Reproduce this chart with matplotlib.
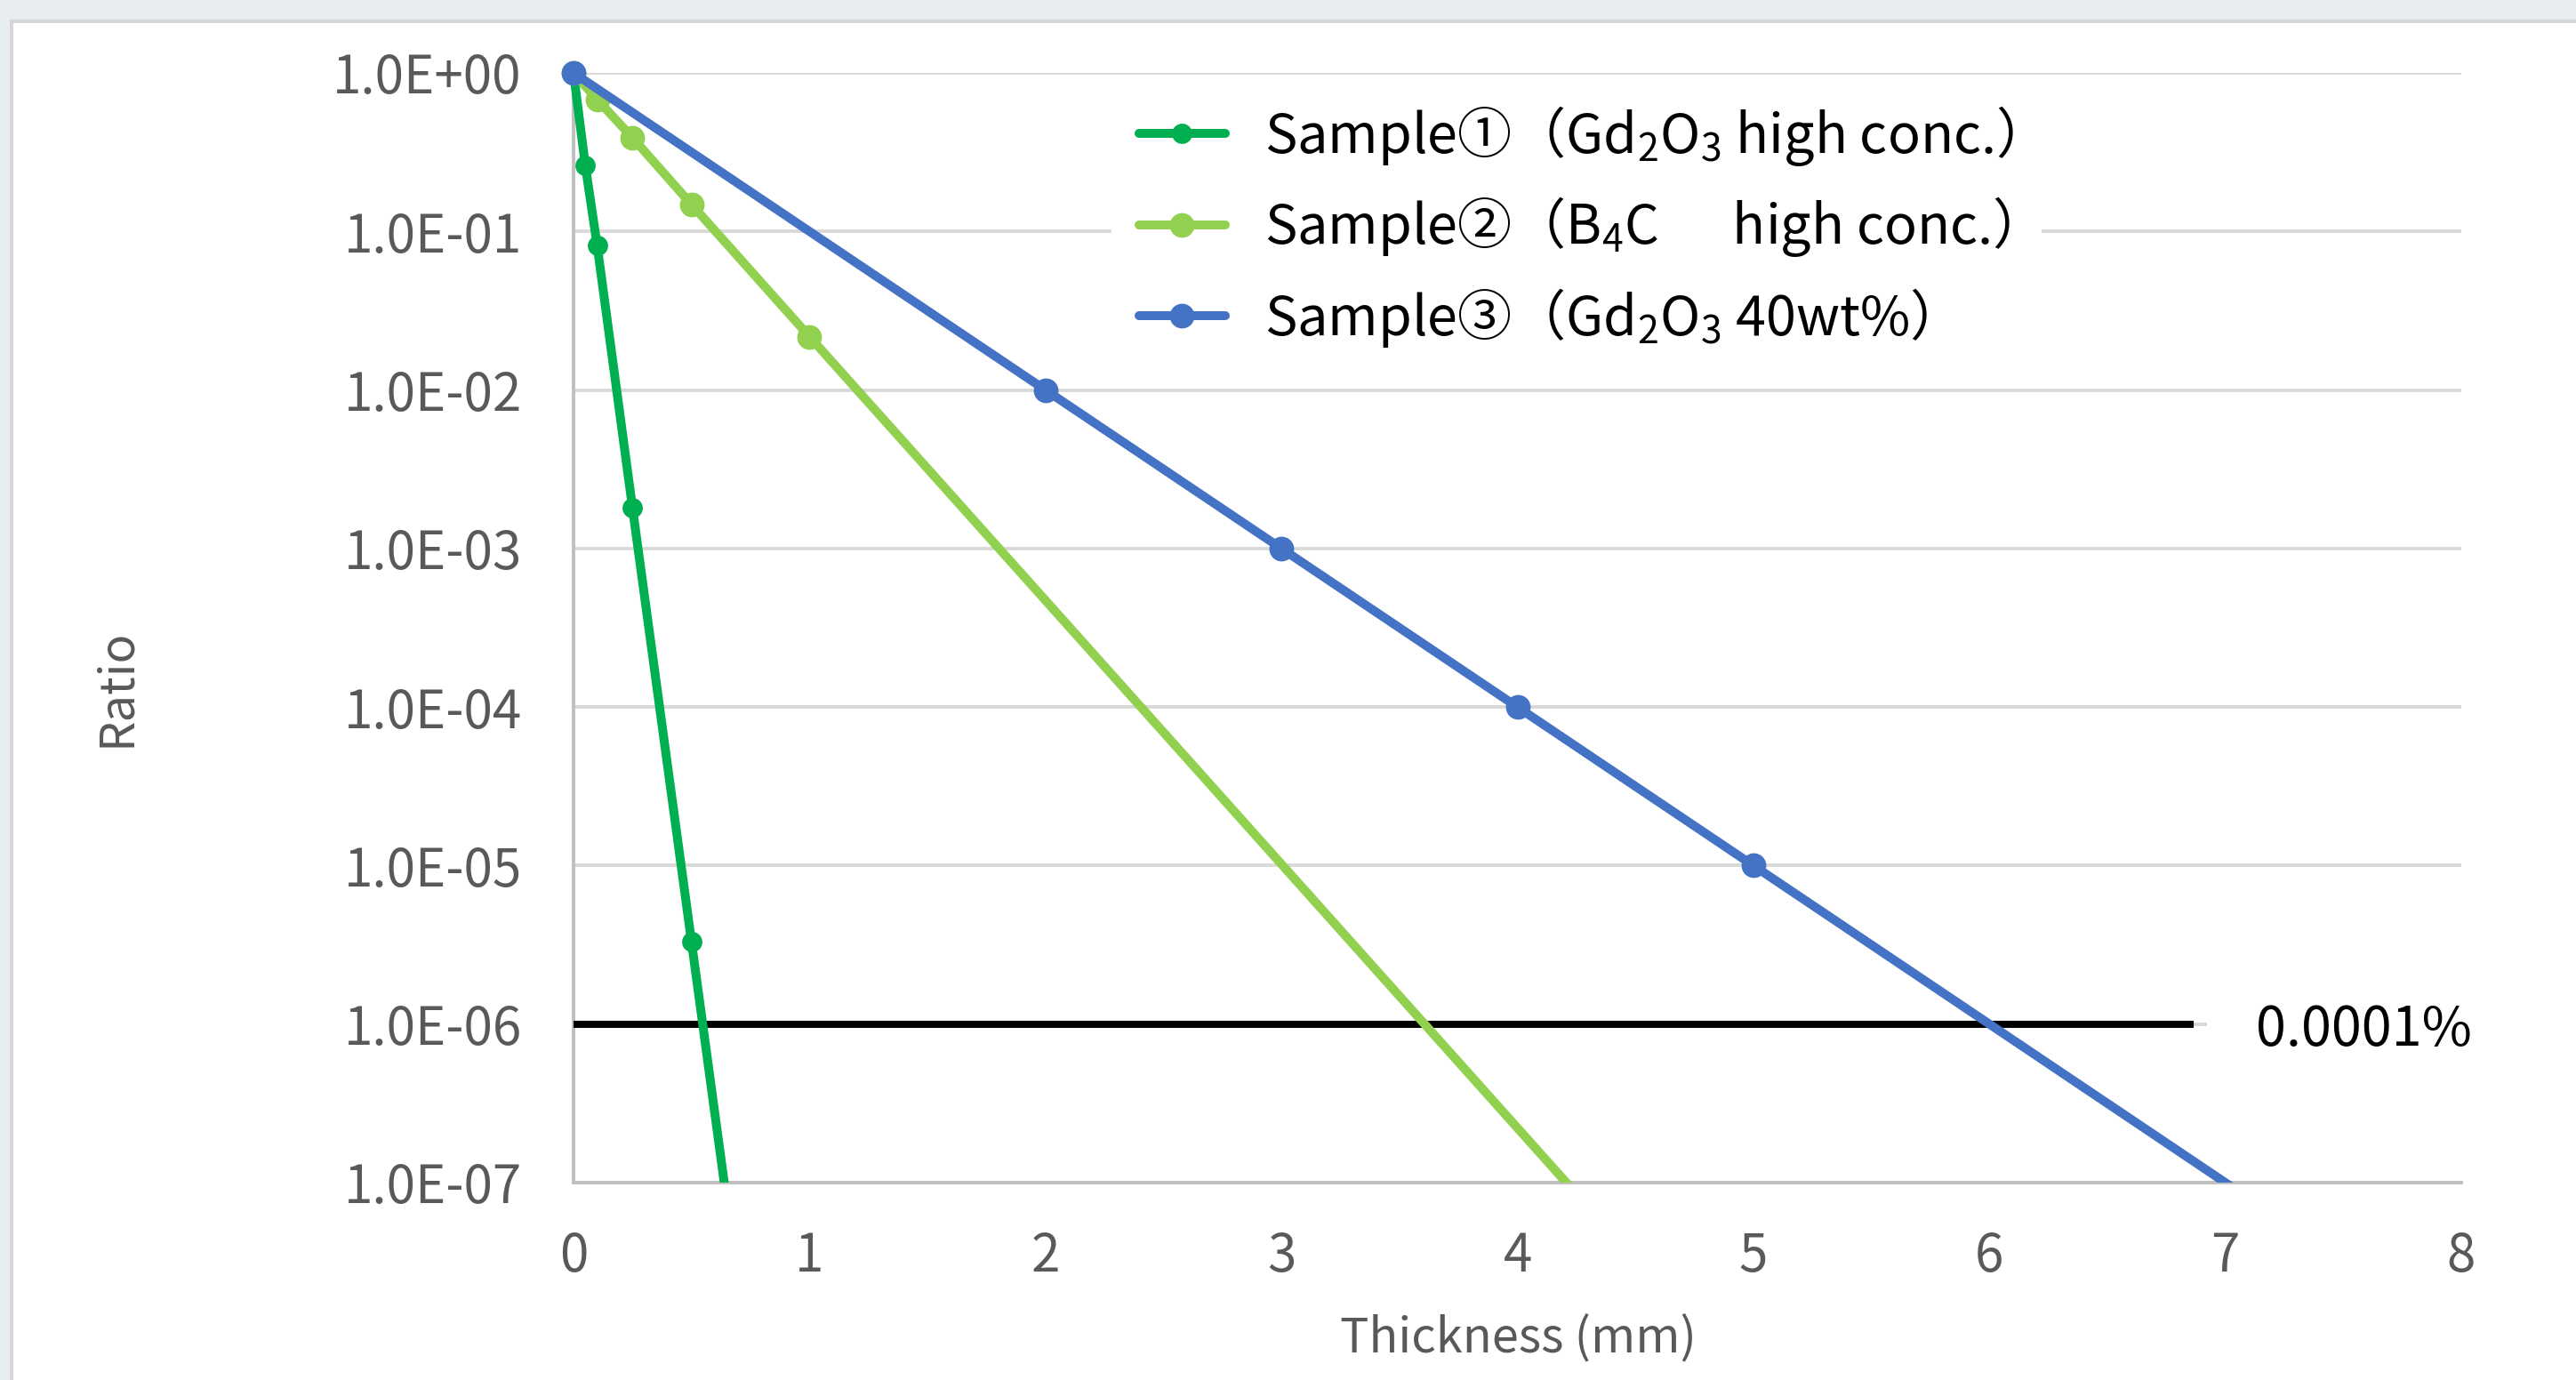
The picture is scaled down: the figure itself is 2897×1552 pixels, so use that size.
import numpy as np
import matplotlib.pyplot as plt
import matplotlib.ticker as ticker
from matplotlib.patches import Rectangle
from matplotlib.lines import Line2D
from matplotlib.transforms import Bbox, TransformedBbox

# Sample① Gd2O3 high conc.
s1_x = [0.0, 0.05, 0.1, 0.25, 0.5, 1.0]
s1_y = [1.0, 0.26, 0.082, 1.8e-3, 3.3e-6, 1.1e-11]
# Sample② B4C high conc.
s2_x = [0.0, 0.1, 0.25, 0.5, 1.0, 5.0]
s2_y = [1.0, 0.68, 0.39, 0.148, 0.0217, 4.8e-9]
# Sample③ Gd2O3 40wt%
s3_x = [0.0, 2.0, 3.0, 4.0, 5.0, 10.0]
s3_y = [1.0, 1e-2, 1e-3, 1e-4, 1e-5, 1e-10]
# 0.0001 % reference line
thr_x = [0.015, 6.85]
thr_y = [1e-6, 1e-6]

labels = ['Sample①（Gd$_{\\mathregular{2}}$O$_{\\mathregular{3}}$ high conc.）',
          'Sample②（B$_{\\mathregular{4}}$C      high conc.）',
          'Sample③（Gd$_{\\mathregular{2}}$O$_{\\mathregular{3}}$ 40wt%）']
colors = ['#00B050', '#92D050', '#4472C4']
y_ticks = [1e-7, 1e-6, 1e-5, 1e-4, 1e-3, 1e-2, 1e-1, 1.0]
x_ticks = [0, 1, 2, 3, 4, 5, 6, 7, 8]

plt.rcParams['font.family'] = ['Noto Sans CJK JP', 'DejaVu Sans']

W, H = 2897, 1552
fig = plt.figure(figsize=(W / 200, H / 200), dpi=200, facecolor='white')

# grey frame strip at top / left (screenshot border)
bg = '#E8EDF0'
fig.add_artist(Rectangle((0, 1 - 22 / H), 1, 22 / H, transform=fig.transFigure,
                         facecolor=bg, edgecolor='none'))
fig.add_artist(Rectangle((0, 0), 11 / W, 1, transform=fig.transFigure,
                         facecolor=bg, edgecolor='none'))
fig.add_artist(Line2D([13 / W, 1], [1 - 24 / H, 1 - 24 / H], transform=fig.transFigure,
                      color='#D6D6D6', lw=1.4))
fig.add_artist(Line2D([13 / W, 13 / W], [0, 1 - 24 / H], transform=fig.transFigure,
                      color='#D6D6D6', lw=1.4))

ax = fig.add_axes([645 / W, 1 - 1330 / H, (2768 - 645) / W, (1330 - 82) / H])
ax.set_yscale('log')
ax.set_xlim(0, 8)
ax.set_ylim(1e-7, 1.0)

clip = TransformedBbox(Bbox([[-0.03, 0.0], [1.0, 1.03]]), ax.transAxes)

ax.plot(thr_x, thr_y, color='black', lw=2.9, zorder=3)
series = [(s1_x, s1_y, 7.2), (s2_x, s2_y, 9), (s3_x, s3_y, 9)]
for (xs, ys, ms), c, lab in zip(series, colors, labels):
    ln, = ax.plot(xs, ys, color=c, lw=3.6, marker='o', ms=ms, mec=c, mfc=c,
                  label=lab, zorder=4, solid_capstyle='round')
    ln.set_clip_box(clip)

ax.annotate('0.0001%', xy=(7.13, 1e-6), xytext=(0, -2.5), textcoords='offset points',
            fontsize=22, color='black', ha='left', va='center',
            bbox=dict(boxstyle='square,pad=0.9', facecolor='white', edgecolor='none'),
            zorder=5)

ax.yaxis.set_major_locator(ticker.FixedLocator(y_ticks))
ax.yaxis.set_minor_locator(ticker.NullLocator())
ax.yaxis.set_major_formatter(ticker.FuncFormatter(lambda v, p: f'{v:.1E}'))
ax.xaxis.set_major_locator(ticker.FixedLocator(x_ticks))
ax.xaxis.set_major_formatter(ticker.FuncFormatter(lambda v, p: f'{v:g}'))

ax.grid(axis='y', color='#D9D9D9', lw=1.4)
ax.set_axisbelow(True)
for s in ['top', 'right']:
    ax.spines[s].set_visible(False)
for s in ['left', 'bottom']:
    ax.spines[s].set_color('#BFBFBF')
    ax.spines[s].set_linewidth(1.4)
ax.tick_params(length=0, labelsize=21, labelcolor='#595959')
ax.tick_params(axis='y', pad=21)
ax.tick_params(axis='x', pad=19)

fig.text(130 / W, 1 - 773 / H, 'Ratio', rotation=90, fontsize=19.5, color='#595959',
         ha='center', va='center')
fig.text(1707 / W, 1 - 1505 / H, 'Thickness (mm)', fontsize=19.5, color='#595959',
         ha='center', va='center')

ax.legend(loc='upper left', bbox_to_anchor=(1250 / W, 1 - 86 / H),
          bbox_transform=fig.transFigure, fontsize=22, frameon=True,
          facecolor='white', edgecolor='none', framealpha=1, fancybox=False,
          handlelength=1.6, handletextpad=0.72, labelspacing=0.5,
          borderpad=0.5, borderaxespad=0)

fig.savefig('out.png', dpi=200, facecolor='white')
